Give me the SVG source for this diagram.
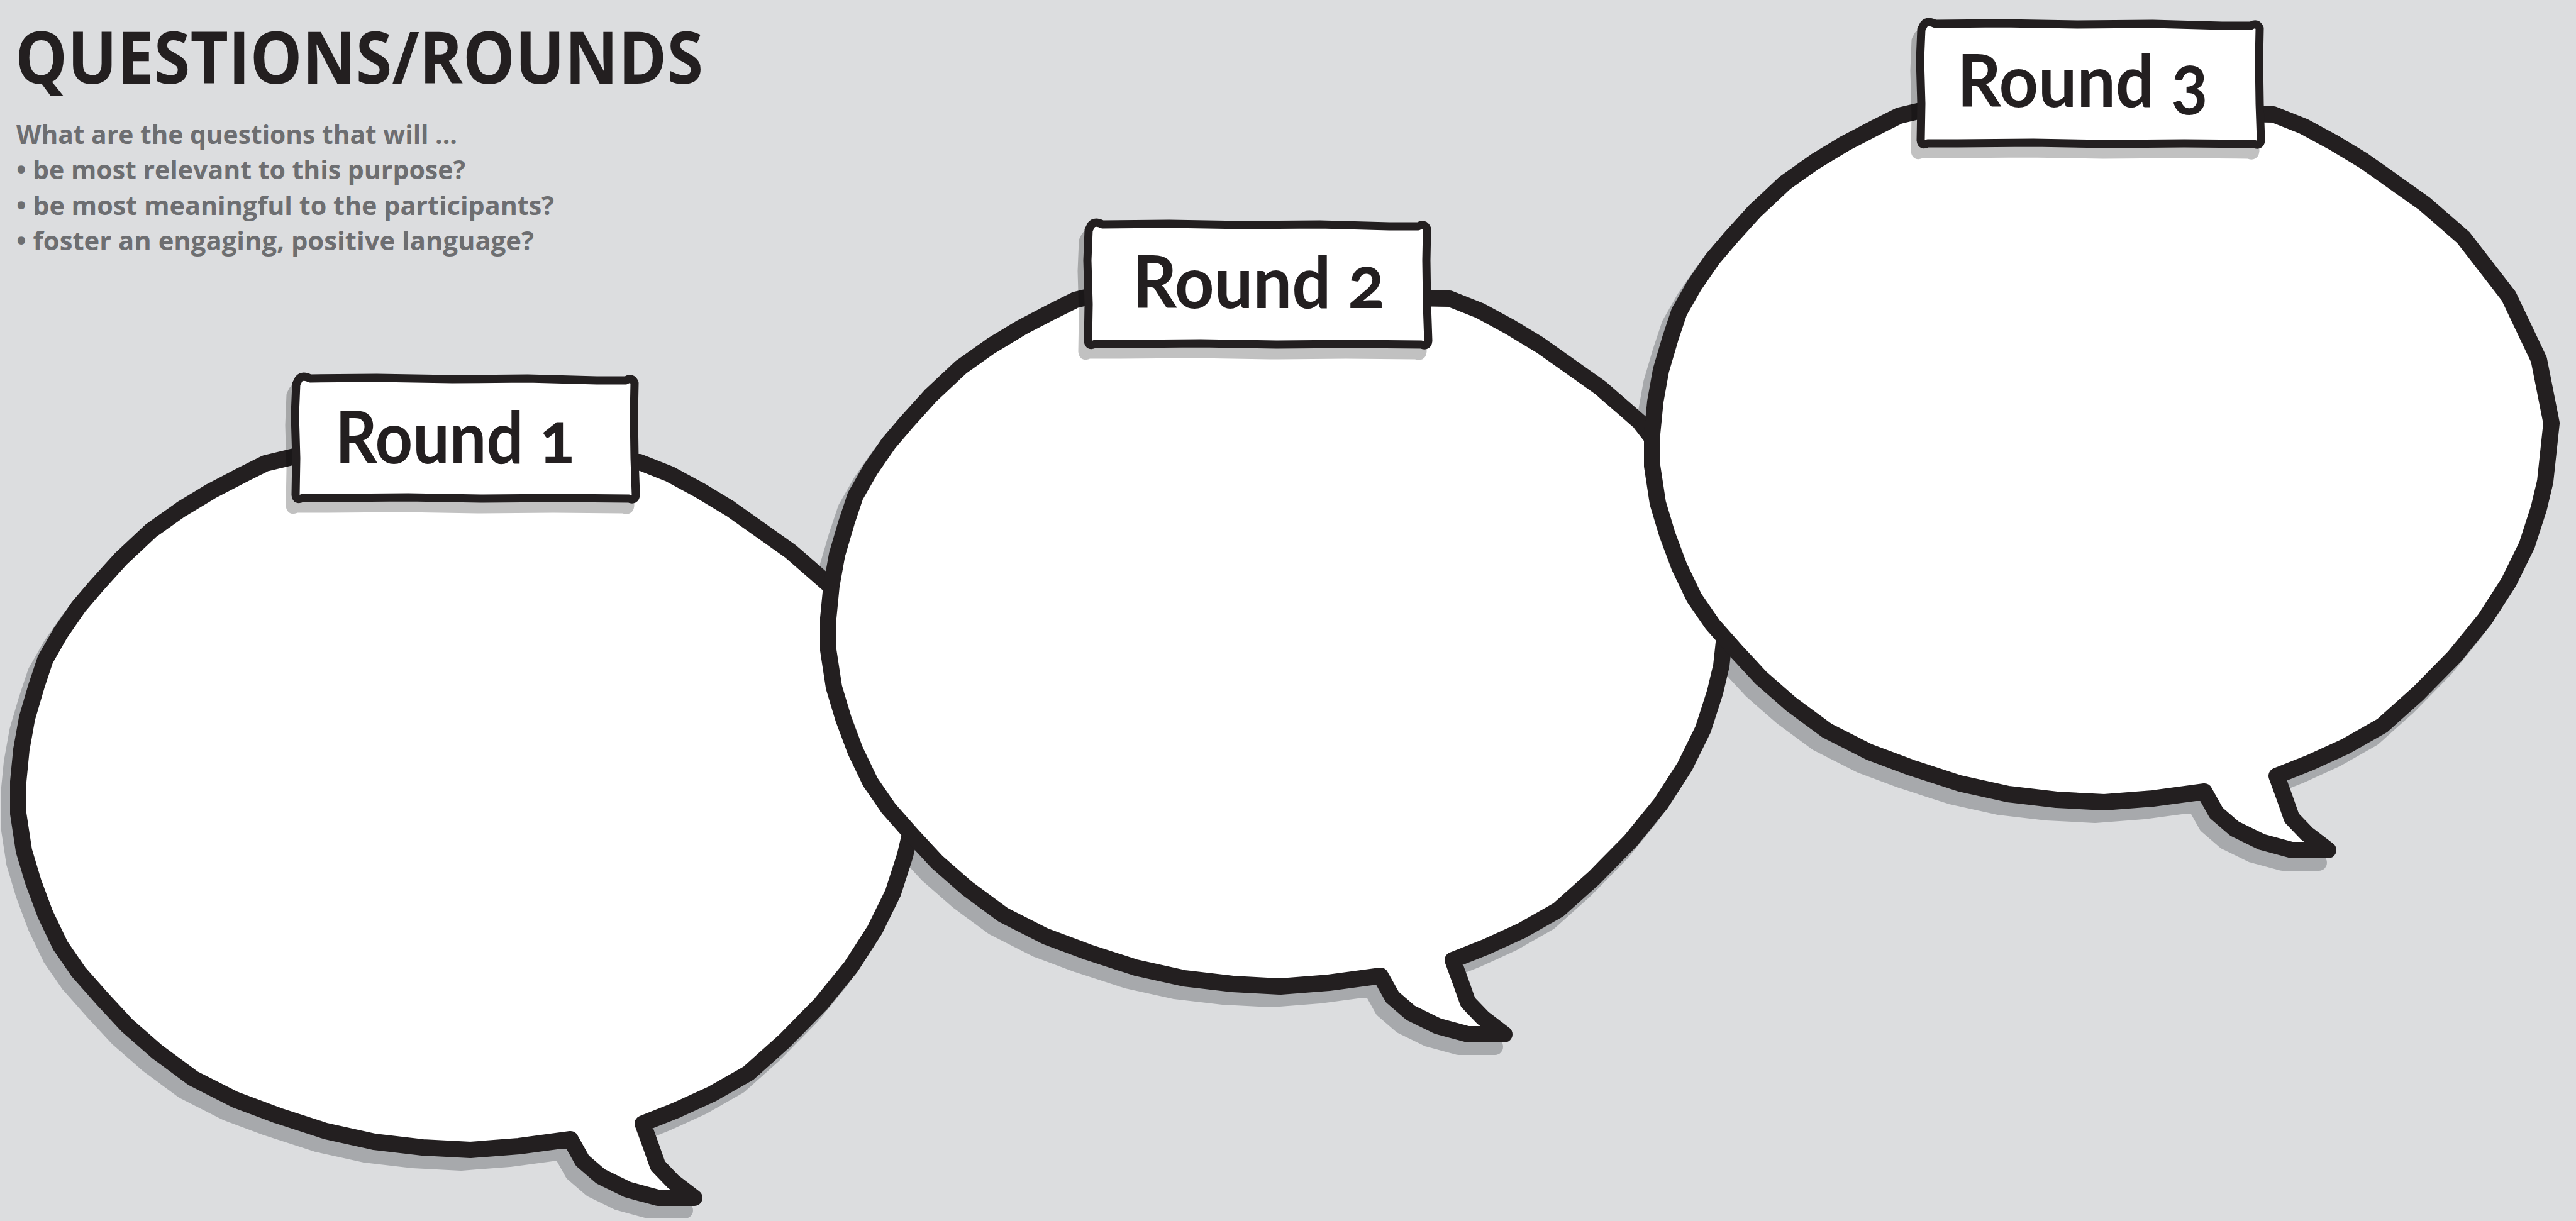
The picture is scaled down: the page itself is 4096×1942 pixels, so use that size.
<svg xmlns="http://www.w3.org/2000/svg" xmlns:xlink="http://www.w3.org/1999/xlink" width="4096" height="1942" viewBox="0 0 4096 1942">
<style>
.bubble{fill:#ffffff;stroke:#231f20;stroke-width:26;stroke-linejoin:round;stroke-linecap:round}
.bshadow{fill:#a7a9ac;stroke:#a7a9ac;stroke-width:26;stroke-linejoin:round}
.tag{fill:#ffffff;stroke:#231f20;stroke-width:13;stroke-linejoin:round}
.tshadow{fill:#000;stroke:#000;stroke-width:13;stroke-linejoin:round}
.title{font-family:"Open Sans","Liberation Sans",sans-serif;font-weight:700;fill:#231f20}
.sub{font-family:"Open Sans","Liberation Sans",sans-serif;font-weight:700;fill:#6d6e71;font-size:41px}
.lbl{font-family:Lato,"Open Sans","Liberation Sans",sans-serif;font-weight:700;fill:#231f20;font-size:115px;font-variant-numeric:oldstyle-nums;font-feature-settings:"onum" 1}
</style>
<defs>
<path id="bubble" d="M468,726 L422,737 L384,756 L336,781 L288,810 L240,844 L192,889 L154,931 L125,965 L96,1007 L72,1049 L58,1091 L43,1142 L34,1192 L29,1243 L29,1294 L38,1353 L53,1403 L72,1454 L96,1504 L125,1546 L163,1589 L202,1631 L250,1673 L307,1715 L374,1749 L441,1774 L518,1799 L595,1816 L672,1825 L748,1829 L825,1823 L907,1812 L926,1846 L955,1871 L998,1892 L1046,1905 L1104,1905 L1070,1879 L1046,1854 L1034,1820 L1022,1787 L1075,1766 L1132,1740 L1190,1707 L1247,1656 L1305,1597 L1353,1538 L1391,1479 L1420,1420 L1439,1361 L1449,1319 L1459,1226 L1439,1125 L1391,1024 L1319,931 L1295,910 L1257,877 L1209,843 L1161,809 L1113,780 L1065,754 L1017,735 Z"/>
<path id="tagshape" d="M6,4 Q12,-3 24,3 L130,2 L250,4 L370,3 L480,6 L526,6 Q536,0 540,10 L539,60 L540,130 L542,188 Q541,198 531,194 L420,193 L300,194 L180,192 L60,193 L12,193 Q2,198 1,188 L2,130 L0,60 L2,12 Z"/>
</defs>
<rect x="0" y="0" width="4096" height="1942" fill="#dcdddf"/>
<g id="heading">
<text class="title" x="24" y="133" font-size="114" textLength="1094" lengthAdjust="spacingAndGlyphs">QUESTIONS/ROUNDS</text>
<text class="sub" x="26" y="229" textLength="701" lengthAdjust="spacingAndGlyphs">What are the questions that will ...</text>
<text class="sub" x="26" y="285" textLength="714" lengthAdjust="spacingAndGlyphs">• be most relevant to this purpose?</text>
<text class="sub" x="26" y="342" textLength="855" lengthAdjust="spacingAndGlyphs">• be most meaningful to the participants?</text>
<text class="sub" x="26" y="398" textLength="823" lengthAdjust="spacingAndGlyphs">• foster an engaging, positive language?</text>
</g>
<g id="shadows">
<use xlink:href="#bubble" class="bshadow" transform="translate(-15,20)"/>
<use xlink:href="#bubble" class="bshadow" transform="translate(1273,-240)"/>
<use xlink:href="#bubble" class="bshadow" transform="translate(2583,-533)"/>
</g>
<g id="connectors"></g>
<g id="round1">
<use xlink:href="#bubble" class="bubble"/>
<g opacity="0.24"><use xlink:href="#tagshape" class="tshadow" transform="translate(460,616)"/></g>
<use xlink:href="#tagshape" class="tag" transform="translate(469,599)"/>
<text class="lbl" x="533" y="737" textLength="381" lengthAdjust="spacingAndGlyphs">Round 1</text>
</g>
<g id="round2">
<use xlink:href="#bubble" class="bubble" transform="translate(1288,-260)"/>
<g opacity="0.24"><use xlink:href="#tagshape" class="tshadow" transform="translate(1720,371)"/></g>
<use xlink:href="#tagshape" class="tag" transform="translate(1729,354)"/>
<text class="lbl" x="1801" y="490" textLength="401" lengthAdjust="spacingAndGlyphs">Round 2</text>
</g>
<g id="round3">
<use xlink:href="#bubble" class="bubble" transform="translate(2598,-553)"/>
<g opacity="0.24"><use xlink:href="#tagshape" class="tshadow" transform="translate(3044,52)"/></g>
<use xlink:href="#tagshape" class="tag" transform="translate(3053,35)"/>
<text class="lbl" x="3112" y="170" textLength="399" lengthAdjust="spacingAndGlyphs">Round 3</text>
</g>
</svg>
